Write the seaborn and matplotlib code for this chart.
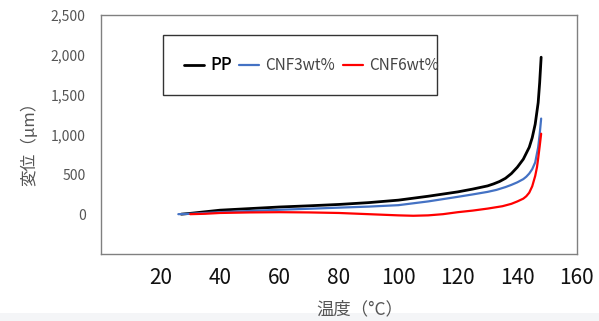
import numpy as np
import pandas as pd
import matplotlib
matplotlib.use("Agg")
import matplotlib.pyplot as plt
from matplotlib.patches import Rectangle
from matplotlib.ticker import FuncFormatter
import seaborn as sns

# values
pp_temp = [27, 30, 35, 40, 50, 60, 70, 80, 90, 100, 110, 120, 125, 130, 132, 134,
           136, 138, 140, 142, 144, 145, 146, 147, 147.5, 148]
pp_disp = [0, 10, 30, 50, 70, 90, 105, 122, 145, 176, 225, 280, 315, 355, 380, 410,
           450, 510, 590, 690, 840, 960, 1130, 1400, 1650, 1970]

cnf3_temp = [26, 30, 35, 40, 50, 60, 70, 80, 90, 100, 110, 120, 125, 130, 133, 136,
             138, 140, 142, 143, 144, 145, 146, 147, 147.5, 148]
cnf3_disp = [0, 5, 15, 25, 40, 55, 68, 82, 95, 113, 160, 218, 248, 280, 305, 340,
             368, 400, 440, 470, 510, 565, 650, 840, 1000, 1200]

cnf6_temp = [30, 35, 40, 50, 60, 70, 80, 90, 100, 105, 110, 115, 120, 125, 130, 135,
             138, 140, 142, 143, 144, 145, 146, 146.6, 147, 147.5, 148]
cnf6_disp = [0, 5, 15, 22, 25, 22, 15, 0, -15, -20, -15, 0, 25, 45, 70, 100,
             130, 160, 195, 225, 270, 350, 480, 590, 700, 850, 1010]

series = ["PP", "CNF3wt%", "CNF6wt%"]
colors = ["#000000", "#4472C4", "#FF0000"]

df = pd.concat([
    pd.DataFrame({"temp": pp_temp, "disp": pp_disp, "s": "PP"}),
    pd.DataFrame({"temp": cnf3_temp, "disp": cnf3_disp, "s": "CNF3wt%"}),
    pd.DataFrame({"temp": cnf6_temp, "disp": cnf6_disp, "s": "CNF6wt%"}),
], ignore_index=True)

sns.set_style("white")
plt.rcParams["font.family"] = ["Noto Sans CJK JP", "DejaVu Sans"]

fig = plt.figure(figsize=(5.99, 3.21), dpi=100)
# faint grey strip along the bottom edge of the screenshot
fig.patches.append(Rectangle((0, 0), 1, 0.025, transform=fig.transFigure,
                             facecolor="#f4f5f7", edgecolor="none", zorder=0))
ax = fig.add_axes([0.1686, 0.2087, 0.7944, 0.7446])

sns.lineplot(data=df, x="temp", y="disp", hue="s", hue_order=series,
             palette=colors, sort=False, estimator=None, linewidth=1.6,
             legend=False, ax=ax)
# black line a bit thicker
ax.lines[0].set_linewidth(2.0)

ax.set_xlim(0, 160)
ax.set_ylim(-500, 2500)
ax.set_xticks([20, 40, 60, 80, 100, 120, 140, 160])
ax.set_yticks([0, 500, 1000, 1500, 2000, 2500])
ax.yaxis.set_major_formatter(FuncFormatter(lambda v, p: f"{int(v):,}"))
ax.tick_params(axis="x", direction="in", length=4, color="#808080",
               labelsize=15, labelcolor="#111111", pad=9)
ax.tick_params(axis="y", direction="in", length=4, color="#808080",
               labelsize=10, labelcolor="#555555", pad=11)
for sp in ax.spines.values():
    sp.set_color("#808080")
    sp.set_linewidth(1.0)
ax.set_xlabel("")
ax.set_ylabel("")

fig.text(0.05, 0.565, "変位（μm）", rotation=90, ha="center", va="center",
         fontsize=12, color="#555555")
fig.text(0.601, 0.036, "温度（°C）", ha="center", va="center",
         fontsize=12.5, color="#555555")

# legend box
ax.add_patch(Rectangle((0.130, 0.665), 0.576, 0.251, transform=ax.transAxes,
                       fill=False, edgecolor="#333333", linewidth=1.0))
handles = [plt.Line2D([], [], color=c, linewidth=2.0 if i == 0 else 1.6)
           for i, c in enumerate(colors)]
leg = ax.legend(handles, series, loc="center", bbox_to_anchor=(0.442, 0.79),
                ncol=3, frameon=False, handlelength=1.3, handletextpad=0.4,
                columnspacing=0.5, fontsize=11)
texts = leg.get_texts()
texts[0].set_fontsize(12)
texts[0].set_fontweight("medium")
texts[0].set_color("#000000")
for t in texts[1:]:
    t.set_color("#444444")

fig.savefig("out.png", dpi=100)
